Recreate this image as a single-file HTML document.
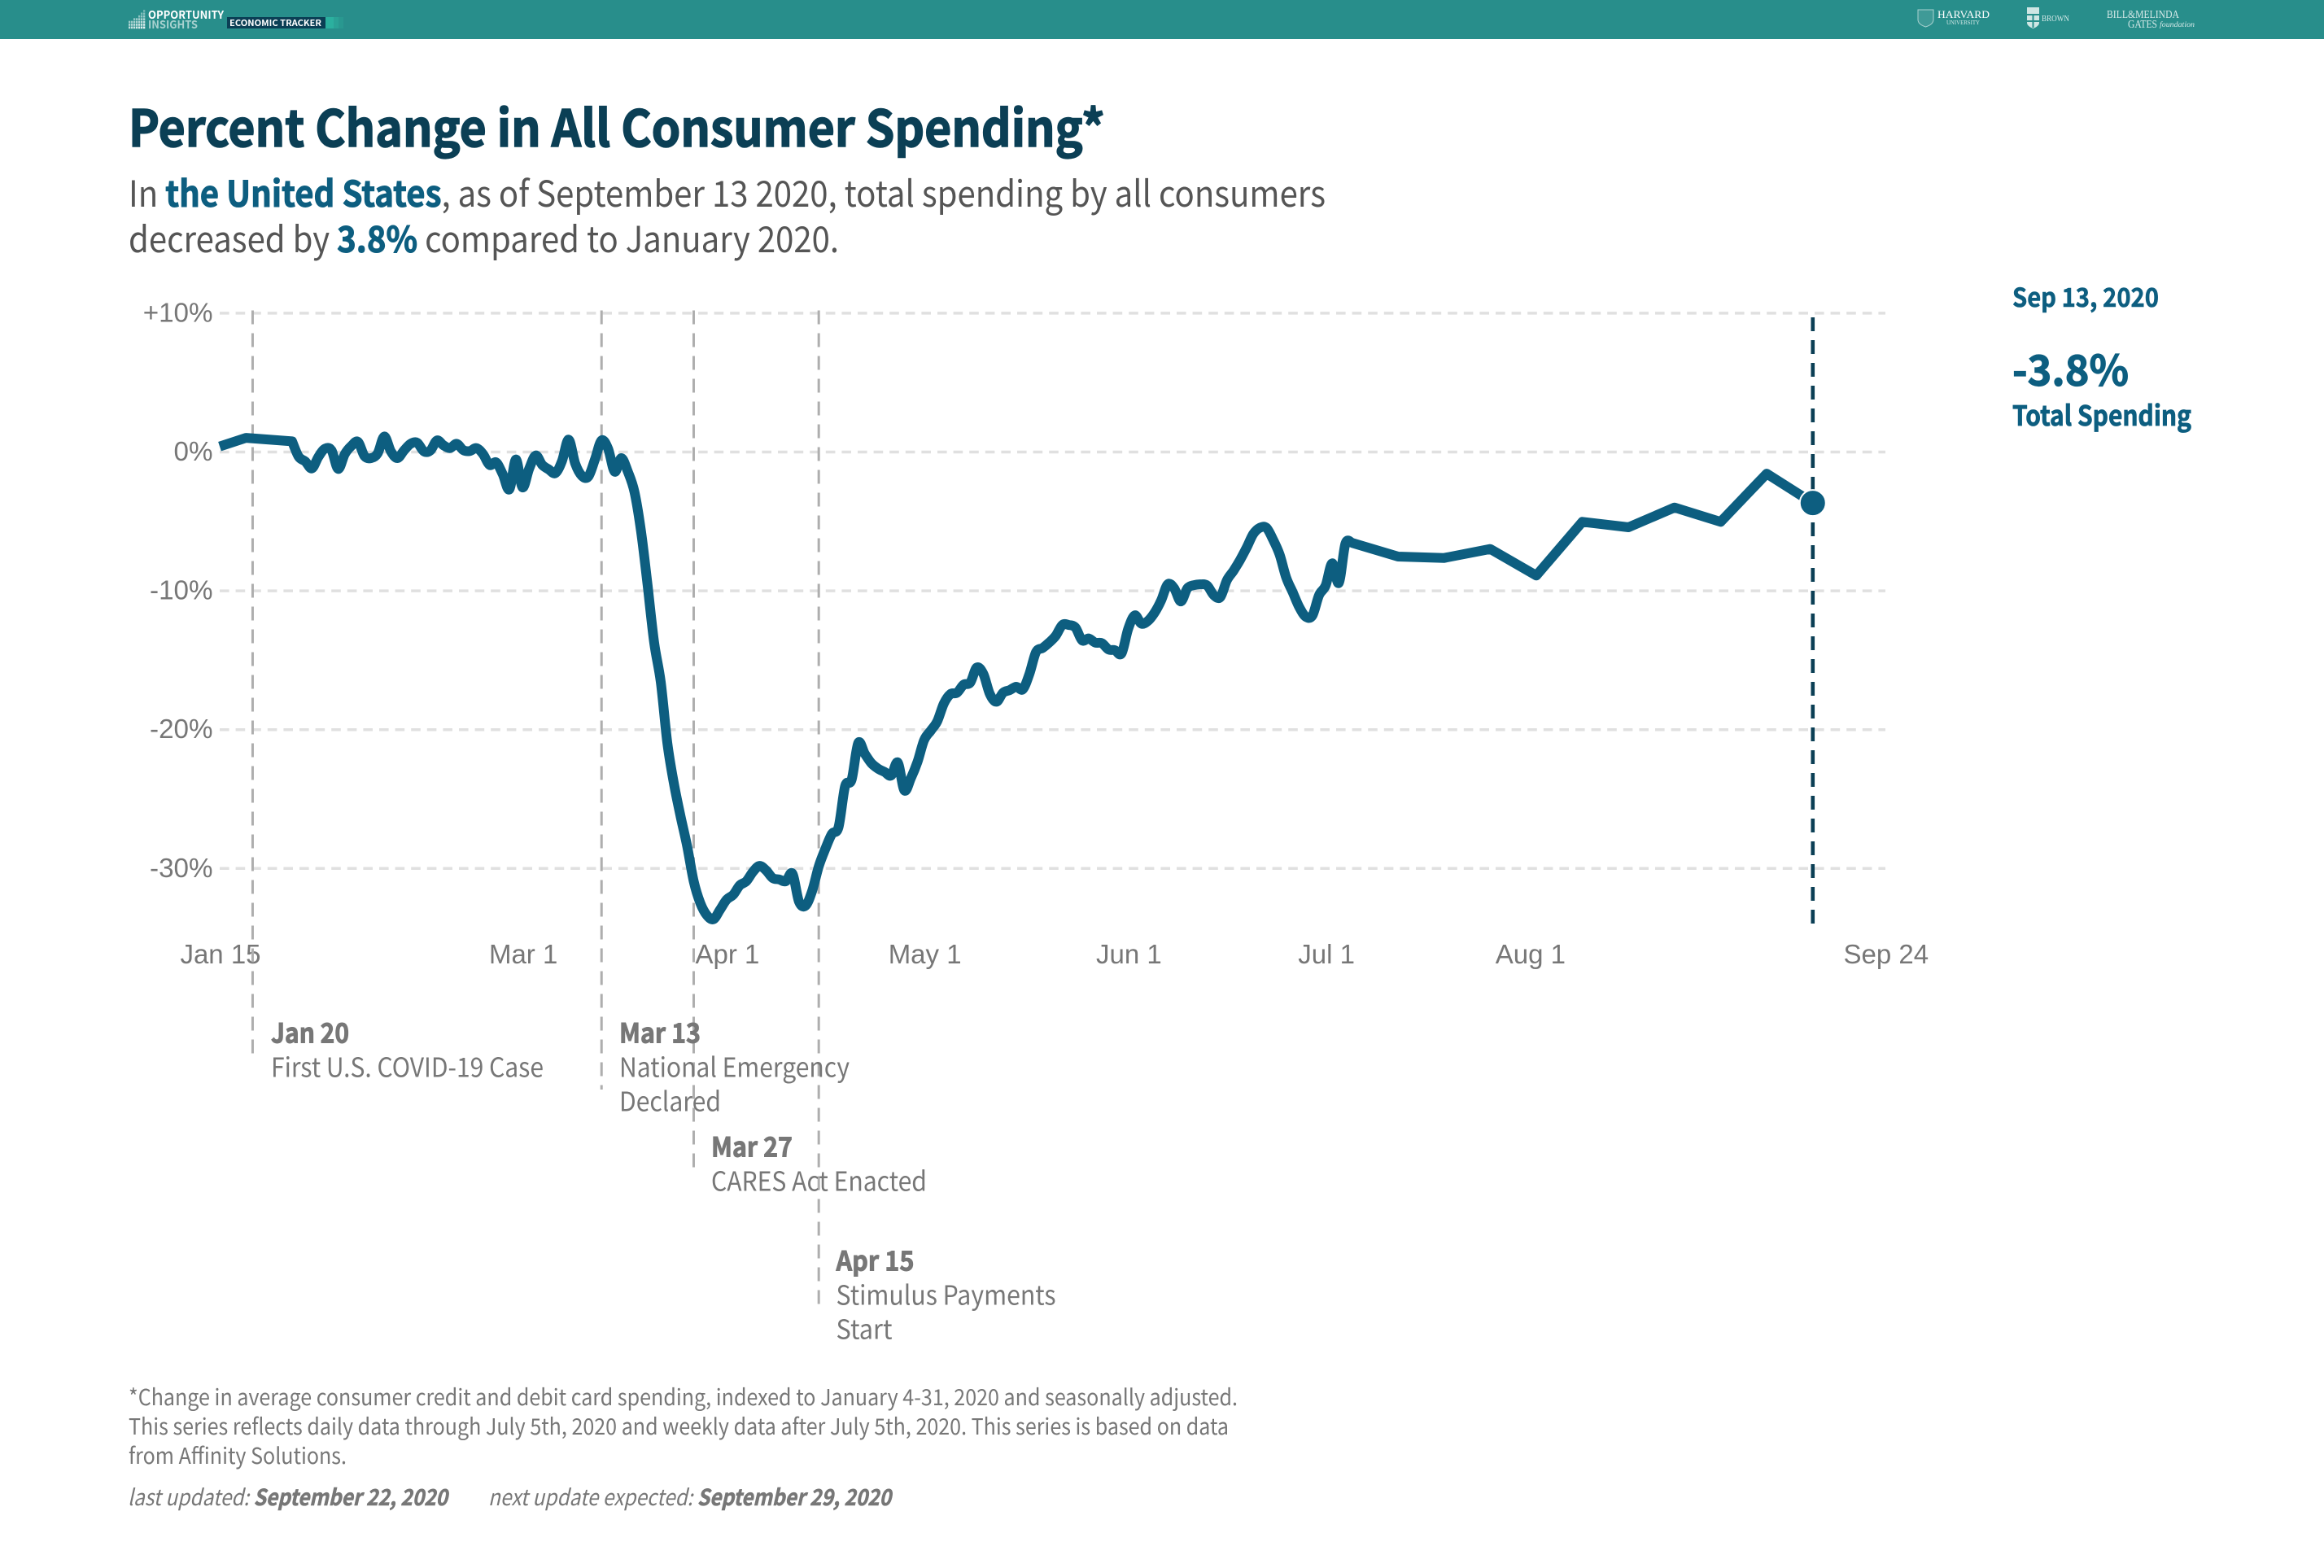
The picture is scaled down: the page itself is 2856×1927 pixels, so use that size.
<!DOCTYPE html>
<html lang="en">
<head>
<meta charset="utf-8">
<title>Percent Change in All Consumer Spending</title>
<style>
html,body{margin:0;padding:0;background:#fff;}
body{width:2856px;height:1927px;overflow:hidden;}
svg{display:block;}
.src{font-family:"Noto Sans CJK JP","Liberation Sans",sans-serif;}
.hel{font-family:"Liberation Sans",Arial,sans-serif;}
.ser{font-family:"Liberation Serif",serif;}
</style>
</head>
<body>
<svg id="chart" xmlns="http://www.w3.org/2000/svg" width="2856" height="1927" viewBox="0 0 2856 1927">
  <rect x="0" y="0" width="2856" height="1927" fill="#ffffff"/>
  <g>
    <rect x="0" y="0" width="2856" height="48" fill="#288e8b"/>
    <g id="logoGrid"></g>
    <text class="src" x="182" y="23" font-size="13.5" font-weight="700" fill="#ffffff" textLength="93" lengthAdjust="spacingAndGlyphs">OPPORTUNITY</text>
    <text class="src" x="182" y="35" font-size="13.5" font-weight="700" fill="#a9d2d0" textLength="61" lengthAdjust="spacingAndGlyphs">INSIGHTS</text>
    <rect x="279" y="21" width="121" height="14" fill="#0b3f55"/>
    <text class="src" x="282" y="32" font-size="10.5" font-weight="700" fill="#ffffff" textLength="113" lengthAdjust="spacingAndGlyphs">ECONOMIC TRACKER</text>
    <rect x="400" y="21" width="10" height="14" fill="#2bb09f"/>
    <rect x="410" y="21" width="6" height="14" fill="#2aa296"/>
    <rect x="416" y="21" width="6" height="14" fill="#299890"/>

    <path d="M2357 12h19v12q0 6-9.500 9q-9.500-3-9.500-9z" fill="#3f9a97" stroke="#a9d2d0" stroke-width="1"/>
    <text class="ser" x="2381" y="22" font-size="12.500" fill="#ffffff" textLength="64" lengthAdjust="spacingAndGlyphs">HARVARD</text>
    <text class="ser" x="2392" y="30" font-size="7.500" fill="#d5e9e8" textLength="41" lengthAdjust="spacingAndGlyphs">UNIVERSITY</text>
    <path d="M2491 9h15v19q0 4-7.500 7q-7.500-3-7.500-7z" fill="#cfe6e4"/>
    <rect x="2491" y="17" width="15" height="2" fill="#288e8b"/>
    <rect x="2491" y="25" width="15" height="2" fill="#288e8b"/>
    <rect x="2497.500" y="19" width="2" height="15" fill="#288e8b"/>
    <text class="ser" x="2509" y="26" font-size="10" fill="#d5e9e8" textLength="34" lengthAdjust="spacingAndGlyphs">BROWN</text>
    <text class="ser" x="2589" y="22" font-size="13.5" fill="#d5e9e8" textLength="89" lengthAdjust="spacingAndGlyphs">BILL&amp;MELINDA</text>
    <text class="ser" x="2615" y="34" font-size="13.5" fill="#d5e9e8" textLength="36" lengthAdjust="spacingAndGlyphs">GATES</text>
    <text class="ser" x="2654" y="33" font-size="9.500" font-style="italic" fill="#d5e9e8" textLength="43" lengthAdjust="spacingAndGlyphs">foundation</text>
  </g>

  <g>
    <text class="src" x="158" y="180" font-size="62" font-weight="700" fill="#0b3f55" stroke="#0b3f55" stroke-width="1.500" textLength="1200" lengthAdjust="spacingAndGlyphs">Percent Change in All Consumer Spending*</text>
    <text class="src" x="158" y="254" font-size="44" fill="#555555" textLength="1471" lengthAdjust="spacingAndGlyphs">In <tspan font-weight="700" fill="#0d5e80" stroke="#0d5e80" stroke-width="1">the United States</tspan>, as of September 13 2020, total spending by all consumers</text>
    <text class="src" x="158" y="310" font-size="44" fill="#555555" textLength="873" lengthAdjust="spacingAndGlyphs">decreased by <tspan font-weight="700" fill="#0d5e80" stroke="#0d5e80" stroke-width="1">3.8%</tspan> compared to January 2020.</text>
  </g>

  <g id="yGrid"></g>
  <g id="yLabels"></g>
  <g id="xLabels"></g>
  <g id="eventLines"></g>
  <g id="series"></g>

  <g stroke="#0d5e80">
    <text class="src" x="2473" y="377" font-size="32" font-weight="700" fill="#0d5e80" stroke-width="0.6" textLength="180" lengthAdjust="spacingAndGlyphs">Sep 13, 2020</text>
    <text class="src" x="2473" y="474" font-size="52" font-weight="700" fill="#0d5e80" stroke-width="1.200" textLength="143" lengthAdjust="spacingAndGlyphs">-3.8%</text>
    <text class="src" x="2473" y="523" font-size="34" font-weight="700" fill="#0d5e80" stroke-width="0.8" textLength="220" lengthAdjust="spacingAndGlyphs">Total Spending</text>
  </g>

  <g fill="#777777">
    <text class="src" x="333" y="1281.500" font-size="33" font-weight="700" stroke="#777777" stroke-width="0.9" textLength="96" lengthAdjust="spacingAndGlyphs">Jan 20</text>
    <text class="src" x="333" y="1323.500" font-size="33" textLength="335" lengthAdjust="spacingAndGlyphs">First U.S. COVID-19 Case</text>
    <text class="src" x="761" y="1281.500" font-size="33" font-weight="700" stroke="#777777" stroke-width="0.9" textLength="100" lengthAdjust="spacingAndGlyphs">Mar 13</text>
    <text class="src" x="761" y="1323.500" font-size="33" textLength="283" lengthAdjust="spacingAndGlyphs">National Emergency</text>
    <text class="src" x="761" y="1365.500" font-size="33" textLength="125" lengthAdjust="spacingAndGlyphs">Declared</text>
    <text class="src" x="874" y="1421.500" font-size="33" font-weight="700" stroke="#777777" stroke-width="0.9" textLength="100" lengthAdjust="spacingAndGlyphs">Mar 27</text>
    <text class="src" x="874" y="1463.500" font-size="33" textLength="265" lengthAdjust="spacingAndGlyphs">CARES Act Enacted</text>
    <text class="src" x="1027.500" y="1561.500" font-size="33" font-weight="700" stroke="#777777" stroke-width="0.9" textLength="96" lengthAdjust="spacingAndGlyphs">Apr 15</text>
    <text class="src" x="1027.500" y="1603.500" font-size="33" textLength="270" lengthAdjust="spacingAndGlyphs">Stimulus Payments</text>
    <text class="src" x="1027.500" y="1645.500" font-size="33" textLength="69" lengthAdjust="spacingAndGlyphs">Start</text>
  </g>

  <g fill="#777777">
    <text class="src" x="158" y="1727" font-size="27.500" textLength="1363" lengthAdjust="spacingAndGlyphs">*Change in average consumer credit and debit card spending, indexed to January 4-31, 2020 and seasonally adjusted.</text>
    <text class="src" x="158" y="1763" font-size="27.500" textLength="1352" lengthAdjust="spacingAndGlyphs">This series reflects daily data through July 5th, 2020 and weekly data after July 5th, 2020. This series is based on data</text>
    <text class="src" x="158" y="1799" font-size="27.500" textLength="268" lengthAdjust="spacingAndGlyphs">from Affinity Solutions.</text>
    <text class="src" x="157" y="1850" font-size="27.500" font-style="italic" textLength="393" lengthAdjust="spacingAndGlyphs">last updated: <tspan font-weight="700" stroke="#777777" stroke-width="0.6">September 22, 2020</tspan></text>
    <text class="src" x="600" y="1850" font-size="27.500" font-style="italic" textLength="495" lengthAdjust="spacingAndGlyphs">next update expected: <tspan font-weight="700" stroke="#777777" stroke-width="0.6">September 29, 2020</tspan></text>
  </g>
</svg>

<script>
// Days elapsed since Jan 15, 2020
const seriesDays = [0,4,11,12,13,14,15,16,17,18,19,20,21,22,23,24,25,26,27,28,29,30,31,32,33,34,35,36,37,38,39,40,41,42,43,44,45,46,47,48,49,50,51,52,53,54,55,56,57,58,59,60,61,62,63,64,65,66,67,68,69,70,71,72,73,74,75,76,77,78,79,80,81,82,83,84,85,86,87,88,89,90,91,92,93,94,95,96,97,98,99,100,101,102,103,104,105,106,107,108,109,110,111,112,113,114,115,116,117,118,119,120,121,122,123,124,125,126,127,128,129,130,131,132,133,134,135,136,137,138,139,140,141,142,143,144,145,146,147,148,149,150,151,152,153,154,155,156,157,158,159,160,161,162,163,164,165,166,167,168,169,170,171,172,179,186,193,200,207,214,221,228,235,242];
// Percent change in spending
const seriesValues = [0.40,1.02,0.77,-0.34,-0.68,-1.18,-0.34,0.24,0.11,-1.22,-0.15,0.44,0.73,-0.30,-0.44,-0.09,1.12,0.05,-0.44,0.11,0.59,0.67,0.05,0.11,0.83,0.48,0.28,0.59,0.14,0.07,0.28,-0.15,-0.93,-0.75,-1.61,-2.69,-0.54,-2.55,-1.22,-0.25,-0.93,-1.26,-1.52,-0.64,0.89,-0.83,-1.71,-1.77,-0.54,0.83,0.24,-1.42,-0.44,-1.42,-2.88,-5.72,-9.62,-13.73,-16.56,-20.96,-23.89,-26.23,-28.38,-30.92,-32.49,-33.37,-33.66,-32.98,-32.25,-31.90,-31.22,-30.92,-30.24,-29.81,-30.14,-30.69,-30.79,-30.92,-30.37,-32.39,-32.68,-31.61,-29.85,-28.58,-27.50,-27.02,-24.08,-23.60,-20.96,-21.74,-22.42,-22.81,-23.05,-23.30,-22.37,-24.38,-23.50,-22.33,-20.76,-20.08,-19.40,-18.12,-17.44,-17.34,-16.76,-16.62,-15.53,-15.98,-17.44,-17.99,-17.34,-17.15,-16.91,-17.09,-15.98,-14.41,-14.12,-13.73,-13.24,-12.46,-12.46,-12.65,-13.57,-13.43,-13.73,-13.77,-14.22,-14.28,-14.51,-12.75,-11.77,-12.36,-12.17,-11.58,-10.70,-9.53,-9.82,-10.76,-9.82,-9.59,-9.53,-9.62,-10.31,-10.45,-9.23,-8.55,-7.77,-6.89,-5.91,-5.46,-5.46,-6.30,-7.38,-9.04,-10.11,-11.19,-11.87,-11.77,-10.31,-9.62,-8.02,-9.43,-6.60,-6.54,-7.53,-7.63,-6.99,-8.90,-5.03,-5.42,-4.00,-5.03,-1.56,-3.67];
const yTickValues = [10,0,-10,-20,-30];
const yTickLabels = ["+10%","0%","-10%","-20%","-30%"];
const xTickDays = [0,46,77,107,138,168,199,253];
const xTickLabels = ["Jan 15","Mar 1","Apr 1","May 1","Jun 1","Jul 1","Aug 1","Sep 24"];
const eventDays = [5,58,72,91];
const eventNames = ["jan-20","mar-13","mar-27","apr-15"];
const eventLineEnds = [1295,1339,1435,1603];

const NS = "http://www.w3.org/2000/svg";
function xScale(day){ return 270 + day * 8.09; }
function yScale(v){ return 555.5 - v * 17.06; }
function make(tag, attrs, parent){
  const el = document.createElementNS(NS, tag);
  for (const k in attrs) el.setAttribute(k, attrs[k]);
  parent.appendChild(el);
  return el;
}

const yGrid = document.getElementById('yGrid');
const yLabels = document.getElementById('yLabels');
yTickValues.forEach(function(v, i){
  const line = make('line', {x1:270, x2:2317, y1:yScale(v), y2:yScale(v), stroke:'#e0e0e0', 'stroke-width':3.5, 'stroke-dasharray':'11.6 8'}, yGrid);
  
  
  const t = make('text', {x:261.5, y:yScale(v)+10.5, 'text-anchor':'end', 'font-size':33.2, fill:'#777777', class:'hel'}, yLabels);
  
  
  t.textContent = yTickLabels[i];
});

const xLabels = document.getElementById('xLabels');
xTickDays.forEach(function(d, i){
  const t = make('text', {x:xScale(d)+1, y:1184, 'text-anchor':'middle', 'font-size':33, fill:'#777777', class:'hel'}, xLabels);
  
  
  t.textContent = xTickLabels[i];
});

const eventLines = document.getElementById('eventLines');
eventDays.forEach(function(d, i){
  const l = make('line', {x1:xScale(d), x2:xScale(d), y1:381.5, y2:eventLineEnds[i], stroke:'#aeaeae', 'stroke-width':3, 'stroke-dasharray':'17 11'}, eventLines);
  
  
});

function buildPath(days, values){
  const px = days.map(xScale), py = values.map(yScale);
  let d = 'M' + px[0].toFixed(1) + ' ' + py[0].toFixed(1);
  for (let i = 0; i < px.length - 1; i++){
    if (days[i+1] - days[i] > 1){
      d += 'L' + px[i+1].toFixed(1) + ' ' + py[i+1].toFixed(1);
    } else {
      const a = (i > 0 && days[i] - days[i-1] === 1) ? i-1 : i;
      const b = (i + 2 < px.length && days[i+2] - days[i+1] === 1) ? i+2 : i+1;
      const k = 1/6;
      d += 'C' + (px[i] + (px[i+1]-px[a])*k).toFixed(1) + ' ' + (py[i] + (py[i+1]-py[a])*k).toFixed(1) + ' ' +
           (px[i+1] - (px[b]-px[i])*k).toFixed(1) + ' ' + (py[i+1] - (py[b]-py[i])*k).toFixed(1) + ' ' +
           px[i+1].toFixed(1) + ' ' + py[i+1].toFixed(1);
    }
  }
  return d;
}

const series = document.getElementById('series');
const lastDay = seriesDays[seriesDays.length-1];
const lastValue = seriesValues[seriesValues.length-1];
const marker = make('line', {x1:xScale(lastDay), x2:xScale(lastDay), y1:390, y2:1135, stroke:'#0b3f55', 'stroke-width':4.6, 'stroke-dasharray':'17 11'}, series);


const path = make('path', {d:buildPath(seriesDays, seriesValues), fill:'none', stroke:'#0d5e80', 'stroke-width':12, 'stroke-linejoin':'round', 'stroke-linecap':'butt'}, series);


const dot = make('circle', {cx:xScale(lastDay), cy:yScale(lastValue), r:16, fill:'#0d5e80', stroke:'#ffffff', 'stroke-width':2}, series);



const logoGrid = document.getElementById('logoGrid');
const logoColumns = [3,3,4,4,5,6,7];
logoColumns.forEach(function(h, c){
  for (let r = 0; r < h; r++){
    const s = make('rect', {x:158 + c*3, y:32.500 - r*3.4, width:2.300, height:2.700, fill:'#ffffff', opacity:(0.9 - r*0.09 - (6-c)*0.03).toFixed(2)}, logoGrid);
    
    
  }
});
</script>
</body>
</html>
